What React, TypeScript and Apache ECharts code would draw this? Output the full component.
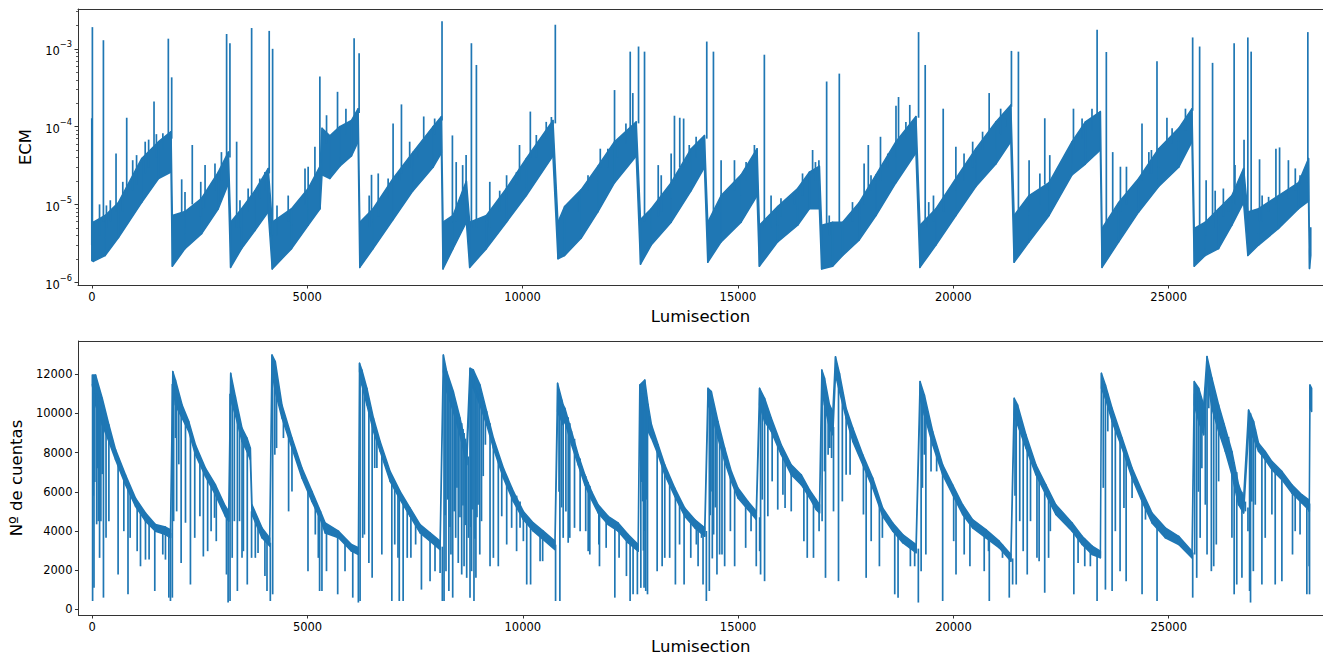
import React, { useEffect, useRef } from "react";
import * as echarts from "echarts";

const C = "#1f77b4";

// x-axis
const xTicks = [0, 5000, 10000, 15000, 20000, 25000];
const xMin = -320;
const xMax = 28583;

// top panel (ECM, log scale)
const ecmTicks = [1e-6, 1e-5, 1e-4, 1e-3];
const ecmMinorTicks = [
  2e-6, 3e-6, 4e-6, 5e-6, 6e-6, 7e-6, 8e-6, 9e-6,
  2e-5, 3e-5, 4e-5, 5e-5, 6e-5, 7e-5, 8e-5, 9e-5,
  2e-4, 3e-4, 4e-4, 5e-4, 6e-4, 7e-4, 8e-4, 9e-4,
  2e-3, 3e-3,
];
const ecmMin = 9.2e-7;
const ecmMax = 3.25e-3;

// [lumisection, lower envelope, upper envelope]
const ecmBand: number[][] = [
  [0, 1.9e-6, 5.9e-6], [37, 1.85e-6, 5.9e-6], [310, 2.2e-6, 7.2e-6], [620, 3.75e-6, 1.06e-5], [1160, 1.06e-5, 3.9e-5], [1550, 2.15e-5, 6.4e-5], [1840, 2.6e-5, 8.6e-5],
  [1870, 1.6e-6, 7.2e-6], [2164, 2.7e-6, 8.1e-6], [2551, 4.2e-6, 1.2e-5], [2937, 8.8e-6, 2.6e-5], [3170, 1.85e-5, 4.7e-5],
  [3223, 1.55e-6, 5.9e-6], [3478, 2.7e-6, 8.8e-6], [3787, 4.6e-6, 1.5e-5], [4096, 8e-6, 2.9e-5],
  [4189, 1.48e-6, 5.9e-6], [4638, 2.7e-6, 8.8e-6], [5023, 5.4e-6, 1.6e-5], [5300, 8.8e-6, 3.1e-5], [5345, 2.4e-5, 9.5e-5], [5527, 2.15e-5, 7.6e-5], [5758, 3.1e-5, 1.0e-4], [6029, 4.2e-5, 1.2e-4], [6183, 6.4e-5, 1.7e-4],
  [6222, 1.55e-6, 5.9e-6], [6531, 2.7e-6, 8.8e-6], [6995, 6.4e-6, 2.15e-5], [7458, 1.5e-5, 4.7e-5], [7922, 3.0e-5, 1.0e-4], [8117, 4.6e-5, 1.35e-4],
  [8154, 1.48e-6, 5.9e-6], [8386, 2.7e-6, 7.2e-6], [8696, 5.9e-6, 2.0e-5],
  [8773, 1.55e-6, 5.9e-6], [9161, 2.7e-6, 7.2e-6], [9625, 5.9e-6, 1.6e-5], [10088, 1.3e-5, 3.9e-5], [10706, 4.2e-5, 1.2e-4],
  [10822, 2.0e-6, 5.9e-6], [10976, 2.2e-6, 9.4e-6], [11363, 3.7e-6, 1.55e-5], [11749, 8e-6, 3.1e-5], [12136, 1.9e-5, 6.4e-5], [12639, 4.2e-5, 1.15e-4],
  [12739, 1.7e-6, 6.4e-6], [12987, 3e-6, 8.8e-6], [13451, 5.9e-6, 1.9e-5], [13915, 1.5e-5, 5.2e-5], [14223, 3e-5, 7.7e-5],
  [14300, 1.8e-6, 5.9e-6], [14610, 3.3e-6, 1.3e-5], [15074, 5.9e-6, 2.4e-5], [15445, 1.3e-5, 5.2e-5],
  [15498, 1.6e-6, 5.4e-6], [15923, 3.3e-6, 9.4e-6], [16387, 5.4e-6, 1.6e-5], [16659, 8.8e-6, 2.6e-5], [16891, 8.8e-6, 3.1e-5],
  [16944, 1.48e-6, 5.4e-6], [17199, 1.6e-6, 5.9e-6], [17431, 2.2e-6, 5.9e-6], [17818, 3.5e-6, 1.06e-5], [18205, 7.2e-6, 2.4e-5], [18669, 1.9e-5, 6.4e-5], [19133, 4.6e-5, 1.35e-4],
  [19226, 1.55e-6, 5.4e-6], [19597, 3e-6, 8.8e-6], [20061, 7.2e-6, 2.15e-5], [20524, 1.7e-5, 5.2e-5], [20988, 3.3e-5, 1.15e-4], [21336, 6.4e-5, 1.9e-4],
  [21412, 1.8e-6, 7.2e-6], [21760, 3.3e-6, 1.3e-5], [22224, 7.2e-6, 1.9e-5], [22757, 2.4e-5, 6.4e-5], [23066, 3.3e-5, 1.15e-4], [23414, 5e-5, 1.56e-4],
  [23453, 1.55e-6, 4.9e-6], [23840, 3.3e-6, 1.06e-5], [24304, 8e-6, 2.15e-5], [24768, 1.7e-5, 5.2e-5], [25232, 3e-5, 9.5e-5], [25541, 6.4e-5, 1.7e-4],
  [25594, 1.6e-6, 4.9e-6], [25849, 2.2e-6, 5.9e-6], [26159, 2.7e-6, 8.8e-6], [26468, 5.4e-6, 1.3e-5], [26739, 1.06e-5, 2.9e-5],
  [26838, 2.2e-6, 8e-6], [27087, 3e-6, 8.8e-6], [27551, 4.9e-6, 1.3e-5], [28015, 8.8e-6, 1.9e-5], [28247, 1.1e-5, 3.9e-5], [28270, 1.5e-6, 2.5e-6], [28300, 2.2e-6, 5e-6],
];

// [lumisection, base, tip]
const ecmSpikes: number[][] = [
  [0, 3e-6, 1.28e-4], [14, 5e-6, 1.9e-3], [270, 6e-6, 1.29e-3], [563, 8e-6, 4.5e-5], [811, 1.3e-5, 1.3e-4], [1445, 5e-5, 2.1e-4], [1777, 7e-5, 1.35e-3], [1855, 7e-5, 4.3e-4],
  [180, 4e-6, 1.0e-5], [340, 5e-6, 9.7e-6], [430, 6e-6, 1.13e-5], [720, 8e-6, 1.95e-5], [950, 1.5e-5, 3.7e-5], [1040, 1.8e-5, 4.3e-5], [1240, 2.5e-5, 6.4e-5], [1320, 3e-5, 6.8e-5], [1500, 4e-5, 8e-5], [1650, 5e-5, 8.2e-5],
  [2087, 7e-6, 2.1e-5], [2333, 1e-5, 5.8e-5], [3130, 4e-5, 1.55e-3], [3207, 4e-5, 1.18e-3],
  [2164, 5e-6, 1.44e-5], [2530, 7e-6, 1.95e-5], [2630, 9e-6, 3.2e-5], [2860, 1.5e-5, 3.35e-5], [3010, 2e-5, 4.7e-5],
  [3363, 5e-6, 6.4e-5], [3711, 1.2e-5, 1.85e-3], [4119, 2.5e-5, 1.7e-3],
  [3440, 5e-6, 1.13e-5], [3630, 8e-6, 1.6e-5], [3900, 1.2e-5, 2.15e-5], [4020, 1.5e-5, 2.6e-5],
  [4198, 4e-6, 1.0e-3], [5295, 2.8e-5, 4.4e-4], [5705, 9e-5, 2.8e-4], [6090, 1.2e-4, 1.37e-3], [6206, 1.5e-4, 8.8e-4],
  [4300, 4e-6, 9.7e-6], [4560, 6e-6, 1.3e-5], [4950, 1e-5, 2.9e-5], [5023, 1.2e-5, 3.05e-5], [5180, 2e-5, 5.5e-5], [5450, 6e-5, 1.4e-4], [5900, 8e-5, 1.7e-4],
  [6494, 8e-6, 2.4e-5], [6995, 2e-5, 1.1e-4], [7189, 2.5e-5, 1.93e-4], [7706, 7e-5, 1.35e-4], [8131, 1.2e-4, 2.26e-3],
  [6440, 5e-6, 1.3e-5], [6650, 7e-6, 2.5e-5], [6880, 1.2e-5, 2.15e-5], [7150, 2e-5, 2.6e-5], [7380, 3e-5, 6.4e-5], [7570, 4e-5, 5.2e-5], [7960, 8e-5, 1.27e-4],
  [8372, 7e-6, 7.7e-5], [8813, 5e-6, 1.18e-3], [8929, 5e-6, 6.2e-4], [10181, 4e-5, 1.56e-4], [10761, 1.1e-4, 2.04e-3],
  [8460, 6e-6, 3.5e-5], [8610, 1e-5, 3.2e-5], [8690, 1.5e-5, 4.3e-5],
  [9240, 5e-6, 1.95e-5], [9470, 8e-6, 1.5e-5], [9630, 1.2e-5, 2.37e-5], [9860, 1.8e-5, 2.6e-5], [9930, 2e-5, 5.8e-5], [10320, 4e-5, 7.8e-5], [10550, 7e-5, 1.15e-4], [10670, 9e-5, 1.33e-4],
  [11805, 3e-5, 5.2e-5], [12136, 6e-5, 2.95e-4], [12500, 9e-5, 9.2e-4], [12560, 1e-4, 2.7e-4], [12693, 1.1e-4, 1.07e-3],
  [11290, 8e-6, 1.2e-5], [11520, 1.5e-5, 2.37e-5], [11980, 3e-5, 5.2e-5], [12210, 4e-5, 6.4e-5], [12400, 6e-5, 1.1e-4],
  [12832, 6e-6, 9.2e-4], [13527, 2e-5, 1.38e-4], [13650, 3e-5, 1.3e-4], [14277, 7e-5, 1.24e-3],
  [13150, 7e-6, 3.2e-5], [13220, 8e-6, 2.37e-5], [13450, 1.2e-5, 4.5e-5], [13740, 3e-5, 1.27e-4], [13870, 3.5e-5, 5.8e-5], [14030, 4e-5, 7.4e-5],
  [14432, 8e-6, 9.2e-4], [15383, 4e-5, 5.8e-5], [15614, 5e-6, 8.4e-4], [16734, 2.5e-5, 5e-5],
  [14610, 8e-6, 3.7e-5], [14920, 1.5e-5, 3.7e-5], [15190, 2e-5, 3.5e-5],
  [15770, 5e-6, 1.3e-5], [16000, 7e-6, 1.2e-5], [16310, 1e-5, 1.44e-5], [16500, 1.3e-5, 2.5e-5], [16800, 2e-5, 3.5e-5], [16880, 2e-5, 3.7e-5],
  [17060, 5e-6, 3.8e-4], [17354, 5e-6, 4.8e-4], [18027, 1.5e-5, 5.8e-5], [18729, 6e-5, 2.4e-4], [18990, 9e-5, 1.9e-4], [19194, 1.3e-4, 1.64e-3],
  [17120, 4e-6, 7.2e-6], [17660, 6e-6, 1.07e-5], [17930, 1e-5, 3.35e-5], [18090, 1.5e-5, 2.37e-5], [18310, 2e-5, 7.4e-5], [18480, 3e-5, 4.5e-5], [18670, 4e-5, 1.85e-4], [18900, 7e-5, 1.15e-4],
  [19348, 5e-6, 6.2e-4], [19766, 8e-6, 1.7e-4], [20833, 8e-5, 2.7e-4], [21350, 1.8e-4, 9.4e-4], [21512, 8e-6, 9.2e-4],
  [19430, 5e-6, 1.07e-5], [19540, 6e-6, 1.3e-5], [20060, 1.5e-5, 5.5e-5], [20250, 2e-5, 4.5e-5], [20450, 3e-5, 6.4e-5], [20680, 5e-5, 8.6e-5], [21100, 8e-5, 1.7e-4], [21220, 1e-4, 1.27e-4],
  [22124, 1.8e-5, 1.28e-4], [23339, 1.4e-4, 1.76e-3], [23553, 5e-6, 9.1e-4], [23701, 8e-6, 4.7e-5], [24381, 2e-5, 1.1e-4],
  [21760, 8e-6, 3.7e-5], [22010, 1e-5, 2.5e-5], [22240, 1.5e-5, 4.3e-5], [22790, 5e-5, 1.7e-4], [22990, 7e-5, 1.27e-4], [23220, 9e-5, 1.7e-4],
  [24729, 4.5e-5, 6.9e-4], [24960, 6e-5, 1.3e-4], [25557, 1.6e-4, 1.4e-3], [25719, 5e-6, 1.07e-3], [26019, 7e-6, 6.6e-4],
  [23880, 8e-6, 3.05e-5], [24020, 1e-5, 3.05e-5], [24540, 2.5e-5, 4.7e-5], [24600, 2.5e-5, 5e-5], [25080, 6e-5, 9.5e-5], [25390, 9e-5, 1.7e-4],
  [26520, 1.3e-5, 1.18e-3], [26838, 8e-6, 1.4e-3], [26915, 8e-6, 9.2e-4], [27575, 1.3e-5, 5.4e-5], [28231, 3.5e-5, 1.64e-3],
  [25870, 4e-6, 2.05e-5], [26080, 5e-6, 1.5e-5], [26270, 7e-6, 1.6e-5], [26390, 8e-6, 1.07e-5], [26540, 1e-5, 3.2e-5], [26750, 2e-5, 6.8e-5],
  [27110, 6e-6, 3.8e-5], [27170, 6e-6, 1.3e-5], [27320, 8e-6, 1.25e-5], [27490, 1e-5, 5.2e-5], [27780, 1.2e-5, 3.7e-5], [27940, 1.5e-5, 2.9e-5], [28050, 1.8e-5, 2.37e-5],
];

// bottom panel (counts)
const countTicks = [0, 2000, 4000, 6000, 8000, 10000, 12000];
const countMin = -285;
const countMax = 13690;

// [lumisection, lower envelope, upper envelope]
const countBand: number[][] = [
  [0, 11450, 11960], [77, 10430, 11960], [232, 9420, 10770], [386, 8570, 9420], [541, 7640, 8150], [772, 6360, 6870], [1004, 5260, 5680], [1236, 4500, 4920], [1468, 3990, 4330], [1700, 3820, 4200], [1816, 3650, 4070],
  [1870, 11600, 12130], [1932, 10430, 11700], [2087, 9760, 10430], [2241, 9080, 9590], [2396, 7890, 8400], [2628, 6790, 7210], [2860, 5850, 6360], [3091, 4750, 5260], [3169, 4500, 5000],
  [3215, 10690, 12040], [3323, 9930, 10860], [3478, 8570, 9250], [3594, 8060, 8740], [3671, 7640, 8230], [3710, 4840, 5340], [3942, 3650, 4160], [4120, 3230, 3650],
  [4174, 12130, 12980], [4251, 11110, 12640], [4406, 9760, 10430], [4638, 8230, 8740], [4870, 6700, 7210], [5102, 5510, 6020], [5300, 4580, 5000], [5410, 3900, 4410], [5720, 3650, 3990], [6020, 2970, 3310], [6180, 2800, 3150],
  [6207, 12130, 12550], [6262, 11450, 12210], [6378, 10430, 11280], [6531, 9080, 9760], [6686, 8060, 8570], [6918, 6530, 7040], [7150, 5600, 6020], [7382, 4750, 5170], [7614, 3900, 4330], [7846, 3480, 3900], [8078, 3050, 3480],
  [8154, 12130, 12980], [8232, 11110, 12130], [8386, 10090, 11110], [8541, 8910, 9760], [8696, 7380, 8230],
  [8773, 11530, 12300], [8850, 11280, 12210], [9005, 10430, 11450], [9161, 9420, 10090], [9316, 8230, 8740], [9548, 6700, 7210], [9780, 5510, 6020], [10012, 4580, 5000], [10244, 3990, 4410], [10476, 3560, 3990], [10745, 3050, 3480],
  [10807, 10090, 11530], [10937, 9420, 10430], [10976, 9590, 10260], [11131, 8400, 9080], [11285, 7380, 7890], [11440, 6360, 6870], [11595, 5600, 6020], [11749, 4920, 5340], [11981, 4330, 4750], [12213, 3990, 4410], [12445, 3400, 3820], [12677, 2970, 3310],
  [12716, 10430, 11450], [12832, 10430, 11700], [12910, 9080, 10430], [12987, 8740, 9420], [13142, 7890, 8400], [13296, 6870, 7380], [13528, 5770, 6190], [13760, 4750, 5170], [13992, 4160, 4580], [14224, 3730, 4160],
  [14300, 10430, 11280], [14378, 10090, 11110], [14532, 8740, 9590], [14687, 7550, 8230], [14842, 6530, 7040], [14996, 5680, 6190], [15228, 5090, 5510], [15421, 4580, 5000],
  [15498, 10430, 11280], [15614, 9590, 10770], [15769, 9080, 9760], [16001, 7890, 8400], [16233, 6870, 7380], [16465, 6360, 6870], [16658, 5700, 6100], [16813, 5090, 5600], [16890, 4920, 5340],
  [16944, 11280, 12210], [17006, 10430, 11800], [17122, 9250, 10430], [17199, 8910, 10090], [17261, 11960, 12890], [17354, 11110, 12040], [17508, 9760, 10260], [17663, 8570, 9250], [17895, 7380, 7890], [18126, 6190, 6700], [18358, 4750, 5170], [18590, 4000, 4410], [18822, 3400, 3820], [19132, 2890, 3310],
  [19225, 10770, 11620], [19325, 9930, 10940], [19518, 8400, 9080], [19750, 6870, 7380], [19982, 5850, 6360], [20214, 4840, 5340], [20445, 4160, 4580], [20755, 3650, 4070], [21064, 3140, 3480], [21335, 2460, 2800],
  [21412, 9930, 10770], [21490, 9420, 10430], [21684, 8230, 8910], [21916, 6870, 7380], [22148, 5850, 6360], [22379, 4840, 5340], [22758, 3990, 4410], [22990, 3310, 3730], [23222, 2800, 3230], [23413, 2630, 2970],
  [23437, 11280, 12040], [23530, 10770, 11450], [23685, 9590, 10260], [23917, 8230, 8740], [24149, 6700, 7210], [24381, 5510, 6020], [24613, 4410, 4920], [24921, 3650, 4160], [25232, 3310, 3730], [25541, 2630, 2970],
  [25594, 10430, 11620], [25696, 9590, 11280], [25812, 8910, 10430], [25889, 11800, 12900], [26004, 10260, 11800], [26159, 9080, 10430], [26313, 8060, 9250], [26468, 6870, 8060], [26622, 5340, 6360], [26739, 4920, 5680],
  [26855, 9080, 10170], [26971, 8740, 9590], [27087, 8060, 8480], [27241, 7640, 8060], [27396, 7130, 7550], [27628, 6620, 7040], [27860, 5940, 6360], [28092, 5430, 5850], [28247, 5090, 5600], [28265, 5000, 5400], [28280, 10260, 11450], [28320, 10090, 11280],
];

// [lumisection, base, tip]
const countDips: number[][] = [
  [8, 11500, 430], [25, 11500, 5800], [40, 11500, 1100], [60, 11000, 6500], [102, 11000, 4340], [120, 10900, 7200], [140, 10800, 4500], [170, 10600, 2630], [200, 10000, 4500], [230, 9800, 6900], [260, 9700, 600], [320, 9200, 3650], [386, 8800, 4500], [600, 7700, 1780], [733, 6800, 3990], [830, 6300, 770], [880, 6000, 3650], [1043, 5400, 2970], [1120, 5100, 2200], [1236, 4700, 2540], [1320, 4500, 2540], [1452, 4100, 940], [1638, 3950, 2800], [1700, 3950, 2540], [1778, 3900, 600], [1816, 3900, 430],
  [1860, 11500, 600], [1890, 11500, 4500], [1932, 11000, 8740], [1960, 10800, 5000], [2010, 10400, 7400], [2064, 10000, 2370], [2165, 9500, 4420], [2280, 9000, 1270], [2380, 8200, 3650], [2500, 7600, 4750], [2580, 7300, 2700], [2680, 6900, 2970], [2760, 6600, 3990], [2840, 6200, 4670], [2880, 6000, 3480], [3117, 4900, 1780], [3155, 4700, 350],
  [3200, 11000, 430], [3250, 10500, 2630], [3300, 10300, 4500], [3370, 9900, 940], [3420, 9300, 4500], [3478, 8900, 2630], [3510, 8800, 2970], [3600, 8400, 1270], [3700, 5000, 2630], [3787, 4600, 2630], [3850, 4300, 2880], [4010, 3800, 1700], [4058, 3600, 940], [4135, 3400, 430],
  [4190, 12500, 770], [4240, 12000, 7890], [4280, 11500, 8230], [4440, 9800, 8740], [4560, 9000, 5000], [4638, 8500, 6020], [5010, 6300, 1950], [5180, 5500, 3820], [5250, 5200, 2630], [5280, 5000, 940], [5334, 4600, 940], [5440, 4100, 1950], [5700, 3800, 770], [5870, 3500, 1950], [6050, 3100, 600], [6180, 2900, 350],
  [6220, 12300, 430], [6280, 11800, 3650], [6320, 11500, 3820], [6424, 10600, 2370], [6500, 9800, 1610], [6560, 9000, 7210], [6610, 8800, 7210], [6725, 8000, 2800], [6957, 6800, 430], [7025, 6500, 3310], [7100, 6100, 2630], [7130, 6000, 430], [7220, 5700, 430], [7315, 5300, 2630], [7400, 5000, 2630], [7510, 4600, 3310], [7645, 4100, 1010], [7745, 3900, 3650], [7845, 3700, 1440], [7960, 3500, 1950], [8078, 3300, 1860], [8130, 3200, 430],
  [8170, 12500, 430], [8195, 12300, 4800], [8215, 12000, 1950], [8250, 11700, 5600], [8282, 11500, 940], [8310, 11400, 4200], [8330, 11300, 2800], [8371, 11000, 600], [8405, 10800, 5000], [8440, 10500, 3650], [8470, 10300, 6200], [8500, 10000, 2370], [8540, 9700, 4700], [8580, 9500, 1780], [8610, 9200, 5300], [8635, 9000, 2200], [8665, 8700, 4300], [8696, 8000, 1610], [8735, 7800, 3650],
  [8773, 11800, 600], [8790, 11700, 4200], [8810, 11600, 1950], [8840, 11500, 5100], [8865, 11500, 430], [8890, 11300, 3600], [8910, 11200, 1610], [8935, 11100, 4700], [8960, 11000, 5340], [9000, 10900, 2800], [9040, 10800, 4500], [9080, 10500, 6800], [9130, 10000, 8400], [9238, 9500, 2200], [9316, 8500, 2630], [9430, 7800, 2200], [9510, 7300, 4750], [9625, 6700, 3310], [9740, 6200, 4160], [9855, 5800, 2970], [9935, 5500, 4160], [10012, 4800, 3480], [10090, 4600, 1270], [10180, 4300, 1270], [10400, 3900, 2460], [10460, 3800, 2460], [10760, 3300, 430],
  [10840, 11200, 6000], [10860, 11000, 430], [10900, 10700, 5200], [10937, 10300, 3650], [11000, 10000, 5000], [11053, 9800, 3400], [11090, 9500, 3650], [11200, 8700, 4160], [11330, 7700, 3990], [11460, 6800, 3990], [11517, 6500, 2970], [11555, 6300, 2800], [11765, 5200, 3310], [11780, 5100, 2200], [11935, 4700, 3140], [12136, 4500, 600], [12235, 4300, 2630], [12406, 3800, 1700], [12491, 3600, 430], [12560, 3400, 770], [12660, 3200, 770],
  [12740, 11000, 1100], [12760, 11000, 6500], [12780, 11000, 5510], [12800, 11000, 3000], [12815, 11000, 1100], [12835, 11000, 4000], [12855, 11000, 940], [12875, 10800, 5600], [12895, 10500, 770], [13119, 8400, 1950], [13235, 7700, 2200], [13296, 7200, 2630], [13410, 6600, 2630], [13543, 6000, 1270], [13640, 5600, 3310], [13745, 5200, 1270], [13900, 4800, 2630], [14030, 4500, 3310], [14070, 4400, 2200], [14150, 4300, 3650], [14185, 4200, 1270], [14262, 4000, 430],
  [14331, 11000, 940], [14350, 10900, 4800], [14370, 10800, 6020], [14400, 10500, 2600], [14430, 10300, 3820], [14470, 10000, 5200], [14508, 9600, 1780], [14570, 9000, 2800], [14625, 8500, 2800], [14687, 8000, 2200], [14820, 7000, 3990], [14919, 6400, 2200], [15175, 5300, 3140], [15300, 5100, 3990], [15421, 4800, 2200], [15500, 4700, 2970],
  [15521, 11000, 1780], [15560, 10800, 5600], [15614, 10500, 1440], [15690, 9900, 4750], [15790, 9400, 6530], [15920, 8600, 5090], [16040, 8000, 5850], [16090, 7800, 5170], [16233, 7100, 5000], [16527, 6500, 3480], [16605, 6300, 2630], [16750, 5700, 2630], [16880, 5200, 3990],
  [16950, 11800, 4500], [17006, 11200, 7040], [17029, 11000, 1610], [17090, 10000, 7890], [17130, 9800, 8230], [17170, 9500, 7720], [17215, 9300, 5000], [17331, 11500, 1440], [17420, 10700, 5510], [17508, 10000, 6870], [17600, 9400, 6870], [17910, 7600, 4840], [17973, 7300, 1610], [18090, 6800, 3480], [18281, 5400, 2200], [18350, 5000, 3650], [18637, 4200, 770], [18714, 4000, 600], [19000, 3500, 2200], [19100, 3300, 2200], [19185, 3100, 350],
  [19250, 11200, 1950], [19280, 11000, 6200], [19325, 10500, 7890], [19360, 10300, 2800], [19480, 9300, 7040], [19610, 8300, 7040], [19750, 7100, 430], [19830, 6900, 6700], [20006, 6100, 3480], [20060, 5900, 1780], [20250, 5100, 2800], [20383, 4700, 2200], [20715, 4000, 1950], [20815, 3900, 2970], [20833, 3900, 430], [21140, 3300, 2630], [21297, 2800, 600], [21375, 2600, 1270],
  [21430, 10500, 5800], [21458, 10200, 1270], [21540, 9600, 4500], [21620, 9000, 2970], [21714, 8600, 1780], [21790, 8000, 4500], [21940, 7200, 2630], [21990, 7000, 2460], [22120, 6400, 850], [22210, 6000, 2630], [22250, 5800, 3990], [22796, 4200, 770], [22895, 3900, 2370], [23050, 3600, 2200], [23180, 3200, 2200], [23336, 2900, 430],
  [23480, 11500, 6200], [23530, 11300, 1010], [23585, 11000, 9080], [23685, 10000, 940], [23760, 9500, 3990], [23870, 8900, 1950], [23960, 8400, 5170], [24011, 8000, 1440], [24149, 7000, 5680], [24381, 5800, 770], [24460, 5400, 4580], [24729, 4500, 430], [24975, 4000, 3990], [25170, 3800, 3650], [25557, 2900, 600],
  [25602, 11000, 2800], [25650, 10800, 1610], [25690, 10600, 6000], [25730, 10500, 3650], [25770, 10300, 7200], [25810, 10000, 9420], [25850, 10300, 5340], [25890, 12000, 2800], [25930, 12000, 10260], [25990, 11500, 1950], [26045, 11000, 2200], [26105, 10700, 3310], [26159, 10000, 6530], [26275, 9500, 8740], [26390, 8800, 8400], [26468, 8000, 3650], [26520, 7500, 770], [26580, 7000, 1270], [26700, 6000, 1610], [26780, 5500, 5000],
  [26840, 5200, 3990], [26878, 10000, 940], [26900, 10000, 350], [26930, 9700, 5500], [26965, 9400, 1950], [27010, 9200, 5340], [27164, 8200, 1270], [27241, 8000, 3650], [27396, 7500, 4840], [27473, 7300, 1270], [27628, 7000, 1440], [27875, 6300, 2800], [27937, 6100, 3990], [28050, 5900, 3820], [28208, 5600, 770], [28262, 5500, 2200], [28270, 5400, 770],
];

const FONT = "DejaVu Sans";
const AX = "#333333";

const powLabel = (v: number) => {
  const e = Math.round(Math.log10(v));
  return "{b|10}{s|" + (e < 0 ? "\u2212" + String(-e) : String(e)) + "}";
};

const bandSeries = (rows: number[][], xi: number, yi: number) => ({
  type: "custom",
  xAxisIndex: xi,
  yAxisIndex: yi,
  data: rows,
  encode: { x: 0, y: [1, 2] },
  clip: true,
  silent: true,
  renderItem: (params: any, api: any) => {
    const i = params.dataIndex;
    if (i >= rows.length - 1) return null;
    const a = rows[i];
    const b = rows[i + 1];
    const pts = [
      api.coord([a[0], a[2]]),
      api.coord([b[0], b[2]]),
      api.coord([b[0], b[1]]),
      api.coord([a[0], a[1]]),
    ];
    return {
      type: "polygon",
      shape: { points: pts },
      style: { fill: C, stroke: C, lineWidth: 1.5, lineJoin: "round" },
    };
  },
});

const spikeSeries = (rows: number[][], xi: number, yi: number) => ({
  type: "custom",
  xAxisIndex: xi,
  yAxisIndex: yi,
  data: rows,
  encode: { x: 0, y: [1, 2] },
  clip: true,
  silent: true,
  renderItem: (params: any, api: any) => {
    const r = rows[params.dataIndex];
    const p0 = api.coord([r[0], r[1]]);
    const p1 = api.coord([r[0], r[2]]);
    return {
      type: "line",
      shape: { x1: p0[0], y1: p0[1], x2: p1[0], y2: p1[1] },
      style: { stroke: C, lineWidth: 1.7 },
    };
  },
});

const spine = { show: true, onZero: false, lineStyle: { color: AX, width: 1 } };

const xAxisCfg = (gridIndex: number) => ({
  type: "value",
  gridIndex,
  position: "bottom",
  min: xMin,
  max: xMax,
  name: "Lumisection",
  nameLocation: "middle",
  nameGap: 23,
  nameTextStyle: { fontFamily: FONT, fontSize: 16.5, color: "#000" },
  axisLine: spine,
  splitLine: { show: false },
  axisTick: { show: true, length: 3.5, lineStyle: { color: AX, width: 1 }, customValues: xTicks },
  axisLabel: { fontFamily: FONT, fontSize: 11.5, color: "#000", margin: 6, customValues: xTicks, formatter: (v: number) => String(v) },
});

const topSpine = (gridIndex: number) => ({
  type: "value",
  gridIndex,
  position: "top",
  min: xMin,
  max: xMax,
  axisLine: spine,
  splitLine: { show: false },
  axisTick: { show: false },
  axisLabel: { show: false },
});

export default function App() {
  const ref = useRef<HTMLDivElement>(null);
  useEffect(() => {
    if (!ref.current) return;
    const chart = echarts.init(ref.current, undefined, { renderer: "svg" });
    chart.setOption({
      animation: false,
      backgroundColor: "#ffffff",
      grid: [
        { left: 78, width: 1246, top: 9, height: 276 },
        { left: 78, width: 1246, top: 341, height: 274 },
      ],
      xAxis: [xAxisCfg(0), xAxisCfg(1), topSpine(0), topSpine(1)],
      yAxis: [
        {
          type: "log",
          logBase: 10,
          gridIndex: 0,
          position: "left",
          min: ecmMin,
          max: ecmMax,
          name: "ECM",
          nameLocation: "middle",
          nameGap: 44,
          nameTextStyle: { fontFamily: FONT, fontSize: 16.5, color: "#000" },
          axisLine: spine,
          splitLine: { show: false },
          minorTick: { show: false },
          axisTick: { show: true, length: 3.5, lineStyle: { color: AX, width: 1 }, customValues: ecmTicks },
          axisLabel: {
            fontFamily: FONT,
            color: "#000",
            margin: 6,
            customValues: ecmTicks,
            formatter: powLabel,
            rich: {
              b: { fontFamily: FONT, fontSize: 11.5, color: "#000", padding: [5, 0, 0, 0] },
              s: { fontFamily: FONT, fontSize: 8.3, color: "#000", verticalAlign: "top" },
            },
          },
        },
        {
          type: "log",
          logBase: 10,
          gridIndex: 0,
          position: "left",
          offset: 0,
          min: ecmMin,
          max: ecmMax,
          axisLine: { show: false, onZero: false },
          splitLine: { show: false },
          axisTick: { show: true, length: 2, lineStyle: { color: AX, width: 0.8 }, customValues: ecmMinorTicks },
          axisLabel: { show: false },
        },
        {
          type: "value",
          gridIndex: 1,
          position: "left",
          min: countMin,
          max: countMax,
          name: "Nº de cuentas",
          nameLocation: "middle",
          nameGap: 52,
          nameTextStyle: { fontFamily: FONT, fontSize: 16.5, color: "#000" },
          axisLine: spine,
          splitLine: { show: false },
          axisTick: { show: true, length: 3.5, lineStyle: { color: AX, width: 1 }, customValues: countTicks },
          axisLabel: { fontFamily: FONT, fontSize: 11.5, color: "#000", margin: 6, customValues: countTicks, formatter: (v: number) => String(v) },
        },
      ],
      series: [
        bandSeries(ecmBand, 0, 0),
        spikeSeries(ecmSpikes, 0, 0),
        bandSeries(countBand, 1, 2),
        spikeSeries(countDips, 1, 2),
      ],
    });
    return () => chart.dispose();
  }, []);
  return <div ref={ref} style={{ position: "absolute", left: 0, top: 0, width: 1323, height: 657 }} />;
}
